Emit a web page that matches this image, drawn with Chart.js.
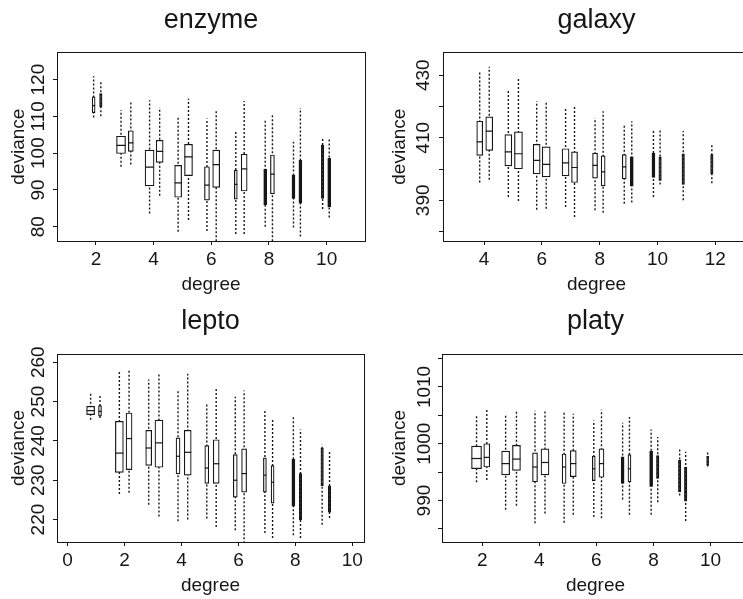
<!DOCTYPE html>
<html>
<head>
<meta charset="utf-8">
<title>deviance by degree</title>
<script src="https://cdn.jsdelivr.net/npm/chart.js@4.4.1/dist/chart.umd.min.js"></script>
<style>
  html, body { margin: 0; padding: 0; background: #fff; }
  body { width: 743px; height: 599px; overflow: hidden; position: relative; }
  canvas { position: absolute; }
</style>
</head>
<body>
<canvas id="enzyme" width="380" height="300" style="left:0px;top:0px"></canvas>
<canvas id="galaxy" width="400" height="300" style="left:371px;top:0px"></canvas>
<canvas id="lepto" width="380" height="299" style="left:0px;top:300px"></canvas>
<canvas id="platy" width="400" height="299" style="left:371px;top:300px"></canvas>
<script>
const FONT = '"Liberation Sans", Arial, Helvetica, sans-serif';
const INK = '#161616';

// enzyme: two boxes per degree
const enzymeAt  = [1.92, 2.17, 2.87, 3.21, 3.86, 4.21, 4.85, 5.21, 5.85, 6.17, 6.85, 7.14, 7.87, 8.12, 8.85, 9.09, 9.86, 10.09];
const enzymeLo  = [109.7, 110.0, 96.3, 96.9, 83.6, 88.4, 78.6, 81.8, 78.8, 76.0, 78.0, 78.0, 80.0, 76.0, 79.8, 77.3, 84.8, 82.5];
const enzymeQ1  = [111.0, 112.6, 99.9, 100.5, 91.1, 97.5, 88.0, 93.9, 87.2, 90.7, 87.5, 89.7, 85.9, 88.9, 87.7, 86.4, 87.7, 85.4];
const enzymeMed = [112.9, null, 102.1, 102.8, 96.2, 100.5, 91.9, 99.0, 91.3, 96.9, 91.5, 95.7, null, 94.3, null, null, null, null];
const enzymeQ3  = [115.3, 116.2, 104.6, 106.1, 100.8, 103.5, 96.7, 102.4, 96.3, 100.8, 95.4, 99.7, 95.6, 99.5, 94.0, 98.1, 102.2, 98.6];
const enzymeHi  = [120.9, 119.4, 111.7, 114.1, 114.4, 112.4, 110.0, 114.8, 109.4, 111.9, 106.2, 114.2, 109.0, 110.3, 103.1, 112.3, 104.0, 104.0];
const enzymeXTicks = [2, 4, 6, 8, 10];
const enzymeYTicks = [80, 90, 100, 110, 120];

// galaxy
const galaxyAt  = [3.85, 4.18, 4.84, 5.19, 5.82, 6.15, 6.82, 7.13, 7.84, 8.12, 8.85, 9.11, 9.86, 10.09, 10.89, 11.88];
const galaxyLo  = [395.7, 396.6, 391.1, 389.8, 387.0, 387.3, 387.9, 384.7, 386.8, 386.0, 388.9, 389.3, 391.1, 395.1, 390.0, 395.5];
const galaxyQ1  = [404.4, 406.0, 401.0, 400.1, 398.5, 397.5, 397.8, 395.7, 397.1, 394.6, 396.9, 394.6, 397.3, 396.4, 395.1, 398.5];
const galaxyMed = [408.7, 412.1, 405.5, 404.9, 402.8, 401.5, 402.0, 400.5, 401.2, 399.1, 400.7, null, null, null, null, null];
const galaxyQ3  = [415.3, 416.7, 411.0, 411.9, 407.9, 407.1, 406.5, 405.5, 405.1, 404.2, 404.6, 403.9, 405.1, 403.9, 404.9, 404.6];
const galaxyHi  = [431.3, 432.7, 425.4, 428.9, 421.7, 421.4, 419.3, 420.1, 416.3, 418.5, 414.5, 415.3, 412.4, 412.9, 412.2, 407.9];
const galaxyXTicks = [4, 6, 8, 10, 12];
const galaxyYTicks = [380, 390, 400, 410, 420, 430];

// lepto
const leptoAt  = [0.81, 1.14, 1.82, 2.16, 2.85, 3.21, 3.88, 4.22, 4.89, 5.22, 5.89, 6.20, 6.93, 7.20, 7.93, 8.18, 8.94, 9.20];
const leptoLo  = [245.4, 245.8, 226.5, 226.8, 223.8, 220.8, 219.6, 220.0, 220.3, 218.1, 217.3, 214.0, 216.6, 215.3, 216.0, 215.3, 218.7, 220.4];
const leptoQ1  = [246.7, 246.3, 232.0, 232.7, 233.8, 233.3, 231.6, 231.3, 229.2, 229.2, 225.7, 227.0, 227.0, 224.2, 223.4, 220.0, 228.6, 221.9];
const leptoMed = [247.7, 247.5, 236.9, 240.6, 238.2, 239.5, 236.1, 237.1, 233.1, 234.2, 230.0, 231.7, 231.3, 229.5, null, null, null, null];
const leptoQ3  = [248.8, 249.0, 245.0, 247.1, 242.7, 245.3, 240.8, 242.7, 238.8, 240.3, 236.5, 238.0, 235.7, 233.7, 235.3, 231.7, 238.2, 228.5];
const leptoHi  = [252.4, 251.6, 257.5, 258.1, 255.6, 256.9, 252.8, 257.1, 249.7, 253.5, 251.2, 252.8, 248.1, 245.8, 246.4, 242.9, 239.1, 237.5];
const leptoXTicks = [0, 2, 4, 6, 8, 10];
const leptoYTicks = [220, 230, 240, 250, 260];

// platy
const platyAt  = [1.80, 2.16, 2.82, 3.20, 3.85, 4.20, 4.87, 5.19, 5.91, 6.18, 6.92, 7.16, 7.92, 8.15, 8.92, 9.13, 9.90];
const platyLo  = [993.2, 993.6, 988.4, 989.1, 986.0, 987.7, 986.1, 987.5, 987.1, 986.9, 990.2, 987.5, 987.5, 989.7, 990.9, 986.4, 996.0];
const platyQ1  = [995.6, 995.9, 994.5, 995.3, 993.3, 994.5, 993.0, 994.2, 993.5, 994.1, 993.0, 993.3, 992.5, 993.9, 991.5, 989.9, 996.2];
const platyMed = [997.4, 997.6, 996.5, 997.3, 995.9, 996.7, 995.9, 996.5, 995.6, 996.5, null, 995.6, null, null, null, null, null];
const platyQ3  = [999.6, 1000.0, 998.7, 999.7, 998.4, 999.1, 998.2, 998.8, 997.8, 999.1, 997.7, 998.1, 998.7, 997.9, 997.1, 995.9, 997.8];
const platyHi  = [1005.1, 1006.2, 1005.0, 1006.0, 1005.8, 1005.8, 1005.7, 1005.3, 1004.1, 1006.0, 1003.7, 1004.7, 1002.5, 1001.2, 999.1, 998.6, 998.6];
const platyXTicks = [2, 4, 6, 8, 10];
const platyYTicks = [985, 990, 995, 1000, 1005, 1010, 1015];

// box widths in px (wider = more fits)
const enzymeBoxW = [3, 2.5, 9, 5, 9, 7, 7, 8, 5, 7, 3, 6, 3, 4, 3, 3, 2.5, 3];
const galaxyBoxW = [6, 7, 7, 8, 7, 8, 7, 6, 5, 4, 4, 3, 3, 2.5, 2.5, 2.5];
const leptoBoxW  = [8, 3, 8, 6, 6, 8, 4, 7, 4, 6, 4, 5, 3, 3, 3, 2.5, 2.5, 2.5];
const platyBoxW  = [10, 6, 8, 8, 5, 8, 4, 6, 3, 5, 3, 3, 3, 2.5, 2.5, 2.5, 2];

// frame around the plot region
const frame = {
  id: 'frame',
  afterDatasetsDraw(chart) {
    const { ctx, chartArea: a } = chart;
    ctx.save();
    ctx.strokeStyle = INK;
    ctx.lineWidth = 1;
    ctx.strokeRect(Math.round(a.left) + 0.5, Math.round(a.top) + 0.5,
      Math.round(a.right - a.left), Math.round(a.bottom - a.top));
    ctx.restore();
  }
};

function boxSets(at, lo, q1, med, q3, hi, widths) {
  const whiskers = [];
  at.forEach((x, i) => {
    whiskers.push({ x, y: lo[i] }, { x, y: hi[i] }, { x, y: null });
  });
  const sets = [{
    type: 'line', data: whiskers, order: 3,
    borderColor: INK, borderWidth: 1.4, borderDash: [2, 2],
    pointRadius: 0, spanGaps: false
  }];
  at.forEach((x, i) => {
    // slim boxes with no visible median print as solid bars
    const solid = med[i] === null && widths[i] <= 3;
    sets.push({
      type: 'bar', data: [{ x, y: [q1[i], q3[i]] }], order: 2,
      grouped: false, barThickness: widths[i],
      backgroundColor: solid ? INK : '#fff', borderColor: INK, borderWidth: 1.2, borderSkipped: false
    });
  });
  sets.push({
    type: 'scatter', order: 1,
    data: at.map((x, i) => ({ x, y: med[i] })),
    pointStyle: 'line',
    pointRadius: c => widths[c.dataIndex] / 2,
    pointBorderColor: INK, pointBorderWidth: 1.2
  });
  return sets;
}

function panel(id, name, sets, lay) {
  const tickFont = { family: FONT, size: 19 };
  new Chart(document.getElementById(id), {
    type: 'bar',
    data: { datasets: sets },
    options: {
      responsive: false,
      animation: false,
      events: [],
      layout: { padding: { left: 0, right: lay.padRight, top: 0, bottom: 0 } },
      plugins: {
        legend: { display: false },
        tooltip: { enabled: false },
        title: {
          display: true, text: name, fullSize: false, color: INK,
          font: { family: FONT, size: 27, weight: 'normal' },
          padding: { top: lay.titleTop, bottom: lay.titleBottom }
        }
      },
      scales: {
        x: {
          type: 'linear', min: lay.xMin, max: lay.xMax, offset: false,
          afterBuildTicks: s => { s.ticks = lay.xTicks.map(v => ({ value: v })); },
          ticks: { autoSkip: false, maxRotation: 0, color: INK, font: tickFont, padding: 3 },
          grid: { drawOnChartArea: false, offset: false, tickLength: 4, color: INK },
          border: { display: false },
          title: { display: true, text: 'degree', color: INK, font: tickFont,
                   padding: { top: 0, bottom: lay.xTitlePad } },
          afterFit: s => { s.height = lay.xAxisH; }
        },
        y: {
          min: lay.yMin, max: lay.yMax,
          afterBuildTicks: s => { s.ticks = lay.yTicks.map(v => ({ value: v })); },
          ticks: { autoSkip: false, minRotation: 90, maxRotation: 90,
                   crossAlign: 'center', color: INK, font: tickFont, padding: lay.yTickPad,
                   callback: lay.yLabel },
          grid: { drawOnChartArea: false, tickLength: 4, color: INK },
          border: { display: false },
          title: { display: true, text: 'deviance', color: INK, font: tickFont,
                   padding: { top: lay.yTitlePad, bottom: 0 } },
          afterFit: s => { s.width = lay.yAxisW; }
        }
      }
    },
    plugins: [frame]
  });
}

panel('enzyme', 'enzyme',
  boxSets(enzymeAt, enzymeLo, enzymeQ1, enzymeMed, enzymeQ3, enzymeHi, enzymeBoxW),
  { xMin: 0.65, xMax: 11.33, yMin: 76.1, yMax: 127.4,
    xTicks: enzymeXTicks, yTicks: enzymeYTicks, yLabel: v => v,
    yAxisW: 57, xAxisH: 59, padRight: 15, titleTop: 4.4, titleBottom: 15.6,
    yTitlePad: 7, xTitlePad: 4, yTickPad: -2 });

panel('galaxy', 'galaxy',
  boxSets(galaxyAt, galaxyLo, galaxyQ1, galaxyMed, galaxyQ3, galaxyHi, galaxyBoxW),
  { xMin: 2.58, xMax: 13.2, yMin: 377, yMax: 437.3,
    xTicks: galaxyXTicks, yTicks: galaxyYTicks,
    yLabel: v => (v % 20 === 10 ? v : ''),
    yAxisW: 72, xAxisH: 59, padRight: 21, titleTop: 4.4, titleBottom: 15.6,
    yTitlePad: 17, xTitlePad: 4, yTickPad: -1 });

panel('lepto', 'lepto',
  boxSets(leptoAt, leptoLo, leptoQ1, leptoMed, leptoQ3, leptoHi, leptoBoxW),
  { xMin: -0.37, xMax: 10.41, yMin: 214.3, yMax: 262.1,
    xTicks: leptoXTicks, yTicks: leptoYTicks, yLabel: v => v,
    yAxisW: 57, xAxisH: 57, padRight: 16, titleTop: 5.2, titleBottom: 16.4,
    yTitlePad: 7, xTitlePad: 2, yTickPad: -2 });

panel('platy', 'platy',
  boxSets(platyAt, platyLo, platyQ1, platyMed, platyQ3, platyHi, platyBoxW),
  { xMin: 0.59, xMax: 11.35, yMin: 982.7, yMax: 1015.8,
    xTicks: platyXTicks, yTicks: platyYTicks,
    yLabel: v => (v % 10 === 0 ? v : ''),
    yAxisW: 71, xAxisH: 57, padRight: 22, titleTop: 5.2, titleBottom: 16.4,
    yTitlePad: 17, xTitlePad: 2, yTickPad: -8 });
</script>
</body>
</html>
